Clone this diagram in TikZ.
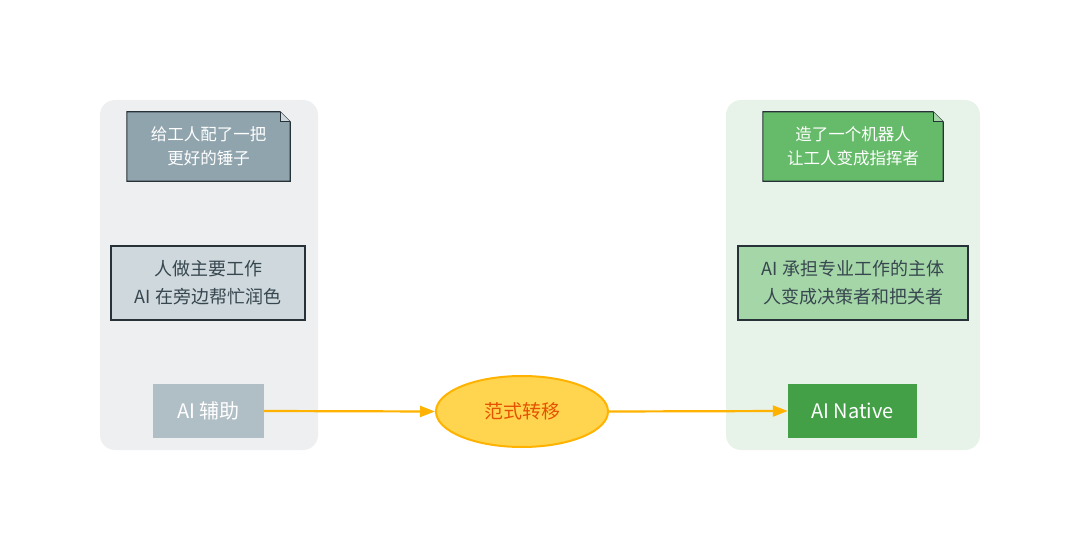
\documentclass[tikz,border=0pt]{standalone}
\usepackage{fontspec}
\setmainfont{Noto Sans CJK SC}
\usetikzlibrary{arrows.meta,shapes.geometric}
\definecolor{lgbg}{HTML}{EDEFF1}
\definecolor{rgbg}{HTML}{E7F3E8}
\definecolor{notegray}{HTML}{90A4AE}
\definecolor{midgray}{HTML}{CFD8DC}
\definecolor{assistgray}{HTML}{B0BEC5}
\definecolor{notegreen}{HTML}{66BB6A}
\definecolor{midgreen}{HTML}{A5D6A7}
\definecolor{nativegreen}{HTML}{43A047}
\definecolor{ellfill}{HTML}{FFD54F}
\definecolor{ellline}{HTML}{FFB300}
\definecolor{elltext}{HTML}{E65100}
\definecolor{darkline}{HTML}{263238}
\definecolor{darktext}{HTML}{37474F}
\tikzset{
  container/.style={rounded corners=15pt, draw=none},
  notebox/.style={minimum width=#1, minimum height=69pt, inner sep=0pt, align=center, font=\fontsize{16.5}{24}\selectfont, text=white},
  midbox/.style={draw=darkline, line width=1.1pt, minimum height=74pt, inner sep=0pt, align=center, font=\fontsize{18}{28}\selectfont},
  endbox/.style={minimum width=#1, minimum height=54pt, inner sep=0pt, text=white, font=\fontsize{20}{24}\selectfont},
  flow/.style={draw=ellline, line width=2.2pt, -{Triangle[length=15pt,width=11pt]}},
}
\begin{document}
\begin{tikzpicture}[x=1pt,y=-1pt]
\useasboundingbox (0,0) rectangle (1080,551);
% containers
\fill[lgbg, container] (100,100) rectangle (318,450);
\fill[rgbg, container] (726,100) rectangle (980,450);
% left note
\node[notebox=163pt] (lnote) at (208.5,146.5) {};
\draw[darkline, line width=1.1pt, fill=notegray] (lnote.north west) -- ([xshift=-10pt]lnote.north east) -- ([yshift=-10pt]lnote.north east) -- (lnote.south east) -- (lnote.south west) -- cycle;
\draw[darkline, line width=0.8pt, fill=midgray] ([xshift=-10pt]lnote.north east) -- ([xshift=-10pt,yshift=-10pt]lnote.north east) -- ([yshift=-10pt]lnote.north east);
\node[notebox=163pt] (ltext) at (lnote) {给工人配了一把\\更好的锤子};
% right note
\node[notebox=180pt] (rnote) at (853,146.5) {};
\draw[darkline, line width=1.1pt, fill=notegreen] (rnote.north west) -- ([xshift=-10pt]rnote.north east) -- ([yshift=-10pt]rnote.north east) -- (rnote.south east) -- (rnote.south west) -- cycle;
\draw[darkline, line width=0.8pt, fill=midgreen] ([xshift=-10pt]rnote.north east) -- ([xshift=-10pt,yshift=-10pt]rnote.north east) -- ([yshift=-10pt]rnote.north east);
\node[notebox=180pt] (rtext) at (rnote) {造了一个机器人\\让工人变成指挥者};
% middle boxes
\node[midbox, fill=midgray, text=darktext, minimum width=194pt] (lmid) at (208,283) {人做主要工作\\AI 在旁边帮忙润色};
\node[midbox, fill=midgreen, text=darktext, minimum width=230pt] (rmid) at (853,283) {AI 承担专业工作的主体\\人变成决策者和把关者};
% end boxes
\node[endbox=111pt, fill=assistgray] (assist) at (208.5,411) {AI 辅助};
\node[endbox=129pt, fill=nativegreen] (native) at (852.5,411) {AI Native};
% ellipse
\node[ellipse, draw=ellline, line width=2pt, fill=ellfill, minimum width=172pt, minimum height=71pt, inner sep=0pt, text=elltext, font=\fontsize{19}{22}\selectfont] (shift) at (522,411.5) {范式转移};
% arrows
\draw[flow] (assist.east) -- (shift.west);
\draw[flow] (shift.east) -- (native.west);
\end{tikzpicture}
\end{document}
